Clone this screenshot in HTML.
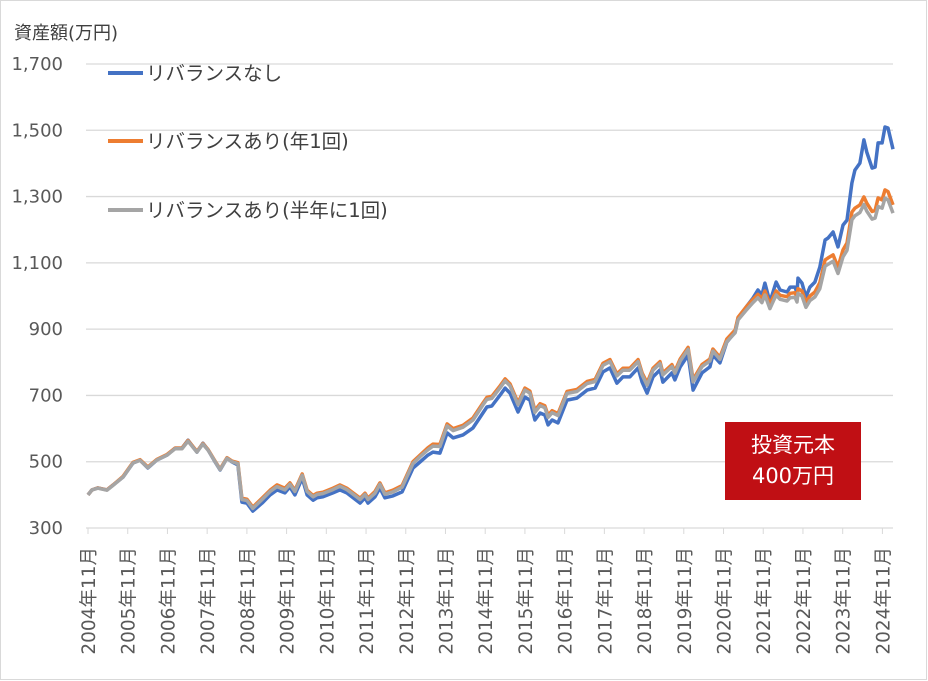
<!DOCTYPE html>
<html><head><meta charset="utf-8"><style>
body{margin:0;background:#fff;}
svg{display:block;font-family:"DejaVu Sans","Noto Sans CJK JP",sans-serif;}
</style></head><body>
<svg id="chart" width="928" height="681" viewBox="0 0 928 681">
<rect x="0.5" y="0.5" width="926" height="679" fill="#fff" stroke="#d9d9d9"/>
<text x="14" y="39" font-size="18" fill="#404040">資産額(万円)</text>
<g id="grid"></g><g id="xl"></g><g id="lines"></g>
<g>
<line x1="108" y1="73" x2="143" y2="73" stroke="#4472c4" stroke-width="4"/>
<text x="146" y="80" font-size="19.5" fill="#404040">リバランスなし</text>
<line x1="108" y1="141" x2="143" y2="141" stroke="#ed7d31" stroke-width="4"/>
<text x="146" y="148" font-size="19.5" fill="#404040">リバランスあり(年1回)</text>
<line x1="108" y1="210" x2="143" y2="210" stroke="#a5a5a5" stroke-width="4"/>
<text x="146" y="217" font-size="19.5" fill="#404040">リバランスあり(半年に1回)</text>
</g>
<g>
<rect x="725" y="422" width="136" height="78" fill="#c00f14"/>
<text x="793" y="452" font-size="21" fill="#fff" text-anchor="middle">投資元本</text>
<text x="793" y="483" font-size="21" fill="#fff" text-anchor="middle">400万円</text>
</g>
</svg>
<script>
const months=[0,1.2,3,5.7,7.6,10.6,13.6,15.7,18.1,20.8,23.9,26.3,28.4,30.2,32.9,34.7,36.3,38.4,39.9,42,43.5,45.3,46.5,48,49.8,52.6,55,57.1,59.5,61,62.5,64.7,66.2,68,69.2,71,74,76.1,78.2,80.1,82.2,83.7,84.6,86.7,88.2,89.7,92.1,94.9,98.2,100.3,102.7,104.2,106.3,108.5,110.3,113.3,116.3,119.3,120.5,122,124.5,126,127.5,129.9,132,133.5,135,136.6,138,139,140.2,142,144.7,147.7,150.8,153.2,155.6,157.7,159.8,161.6,163.7,166.2,167.4,168.9,170.7,172.8,173.7,176.4,177.3,178.9,181.3,182.8,185.5,187.9,188.8,190.9,193,195.5,196.4,199.1,200.9,202.4,203.6,204.5,206,207.9,209.1,211.2,212.1,213.6,214.2,214.5,215.7,216.9,218.1,219.6,221.1,222.7,223.6,225.1,226.6,228.1,229.3,230.8,231.7,233.2,234.4,235.3,236.9,237.8,238.7,239.9,240.8,241.7,243.2];
const noRebalance=[400,415,421,415,430,454,496,505,481,505,520,541,541,565,529,556,535,499,475,511,499,490,378,375,351,375,400,415,406,424,400,451,400,384,391,394,406,415,406,391,375,391,375,394,421,391,397,409,481,499,520,529,526,587,572,581,602,647,665,668,701,722,707,650,695,686,626,647,641,611,626,617,686,692,716,722,771,783,737,756,756,783,740,707,756,777,740,768,747,786,822,716,768,786,822,798,861,891,934,970,994,1018,1003,1039,982,1042,1018,1012,1027,1027,1009,1054,1039,997,1027,1042,1087,1169,1175,1193,1148,1214,1229,1341,1380,1401,1471,1434,1386,1389,1462,1462,1510,1507,1443];
const yearly=[400,415,421,415,430,456,498,506,484,507,522,541,541,564,531,555,536,502,478,512,502,497,390,387,363,390,414,430,420,436,414,463,414,398,405,408,420,430,420,406,390,405,390,410,436,406,414,428,500,520,542,553,552,614,600,610,632,677,694,697,729,750,735,678,722,713,655,675,669,640,654,645,712,718,742,748,797,808,765,782,782,808,768,738,782,802,768,793,773,810,845,748,793,810,840,815,870,897,936,970,990,1005,992,1015,975,1015,1002,998,1008,1010,996,1022,1015,982,1000,1012,1040,1109,1115,1124,1087,1139,1160,1253,1265,1275,1299,1280,1255,1258,1296,1290,1320,1315,1275];
const halfYearly=[400,415,420,414,429,454,496,504,482,505,520,539,539,562,529,553,534,500,476,510,500,494,386,383,359,386,410,425,415,432,410,459,410,394,401,404,416,426,416,402,386,401,386,405,432,402,409,423,495,515,536,547,546,608,594,604,626,671,688,691,723,744,729,672,716,707,649,669,663,634,648,639,706,712,736,742,791,802,759,776,776,802,762,731,776,796,762,787,767,804,839,741,787,804,834,809,862,889,928,960,980,995,980,1003,962,1003,990,985,995,996,982,1008,1000,966,986,997,1022,1090,1096,1105,1068,1118,1138,1230,1242,1252,1276,1256,1232,1235,1270,1265,1295,1290,1250];
const yTicks=[300,500,700,900,1100,1300,1500,1700];
const tickLabels=["300","500","700","900","1,100","1,300","1,500","1,700"];
const xYears=[2004,2005,2006,2007,2008,2009,2010,2011,2012,2013,2014,2015,2016,2017,2018,2019,2020,2021,2022,2023,2024];
const NS="http://www.w3.org/2000/svg";
const X0=88,XS=3.31,PL=86,PR=893;
const x=m=>X0+m*XS;
const y=v=>528-(v-300)*(464/1400);
function mk(t,a,p){const e=document.createElementNS(NS,t);for(const k in a)e.setAttribute(k,a[k]);p.appendChild(e);return e;}
const grid=document.getElementById('grid');
yTicks.forEach((v,i)=>{
  const l=mk('line',{x1:PL,x2:PR,y1:y(v),y2:y(v),stroke:'#d9d9d9','stroke-width':1.3},grid);
  
  
  const t=mk('text',{x:63,y:y(v)+6,'font-size':18,fill:'#595959','text-anchor':'end'},grid);
  t.textContent=tickLabels[i];
  
  
});
const xl=document.getElementById('xl');
xYears.forEach((yr,i)=>{
  const px=x((yr-2004)*12);
  const tk=mk('line',{x1:px,x2:px,y1:528,y2:534,stroke:'#d9d9d9'},xl);
  
  
  const t=mk('text',{x:0,y:0,'font-size':18.5,fill:'#595959','text-anchor':'end',transform:`translate(${px+7},547) rotate(-90)`},xl);
  t.textContent=yr+'年11月';
  
  
});
const lines=document.getElementById('lines');
[[noRebalance,'#4472c4','line-no-rebalance'],[yearly,'#ed7d31','line-rebalance-yearly'],[halfYearly,'#a5a5a5','line-rebalance-halfyearly']].forEach(([d,c,n])=>{
  const p=mk('polyline',{points:d.map((v,i)=>x(months[i]).toFixed(1)+','+y(v).toFixed(1)).join(' '),fill:'none',stroke:c,'stroke-width':3.5,'stroke-linejoin':'round'},lines);
  
  
});
</script>
</body></html>
